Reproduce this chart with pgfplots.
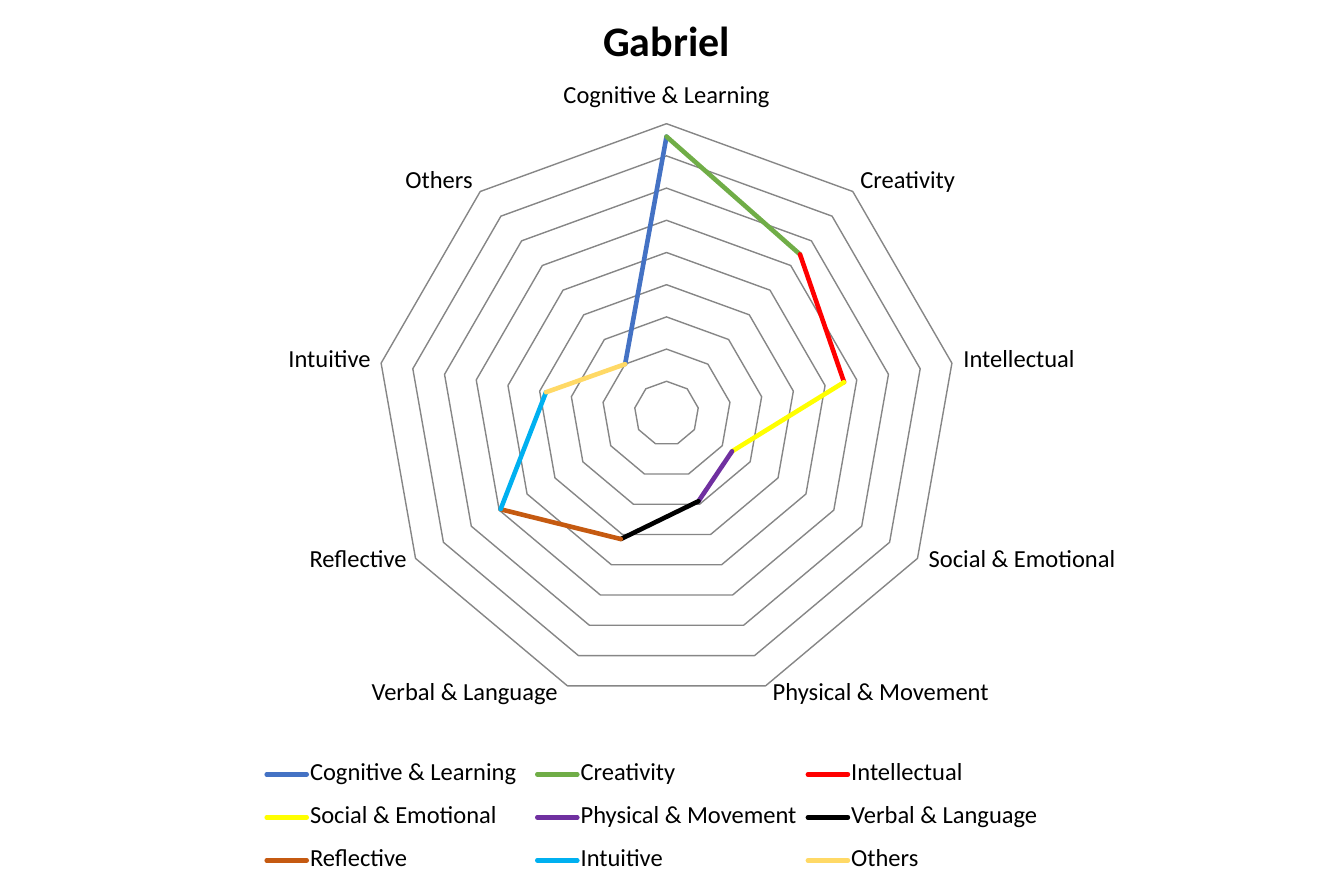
\documentclass[border=0pt]{standalone}
\usepackage{pgfplots}
\pgfplotsset{compat=1.18}
\usepackage{fontspec}
\setmainfont{Carlito}
\definecolor{gridgray}{HTML}{868686}
\definecolor{cBlue}{HTML}{4472C4}
\definecolor{cGreen}{HTML}{70AD47}
\definecolor{cRed}{HTML}{FF0000}
\definecolor{cYellow}{HTML}{FFFF00}
\definecolor{cPurple}{HTML}{7030A0}
\definecolor{cBlack}{HTML}{000000}
\definecolor{cOrange}{HTML}{C55A11}
\definecolor{cCyan}{HTML}{00B0F0}
\definecolor{cLOrange}{HTML}{FFD966}
\newcommand{\lf}{\fontsize{12.25}{14}\selectfont}
\newcommand{\legtxt}[1]{\makebox[112pt][l]{#1}}
\begin{document}
\begin{tikzpicture}
\begin{axis}[
  hide axis, clip=false,
  x=16.1pt, y=16.1pt,
  xmin=-20.699, xmax=20.730, ymin=-14.767, ymax=12.842,
  data cs=polar,
  legend columns=3,
  legend cell align=left,
  legend image code/.code={\draw[#1,line cap=round] (0pt,0pt) -- (20pt,0pt);},
  legend style={at={(axis cs:-12.50,-10.823)}, anchor=north west, draw=none, fill=none,
    inner sep=0pt, row sep=9.5pt, font=\lf,
    nodes={inner xsep=0.5pt, inner ysep=0pt, text height=9pt, text depth=3pt}},
  every axis plot/.append style={line width=2.3pt, line cap=round, line join=round},
]
\pgfplotsinvokeforeach{1,...,9}{
  \addplot[gridgray, line width=0.7pt, forget plot] coordinates {(90,#1) (50,#1) (10,#1) (-30,#1) (-70,#1) (-110,#1) (-150,#1) (170,#1) (130,#1) (90,#1)};
}
\addplot[cBlue] coordinates {(130,2.0) (90,8.6)};
\addlegendentry{\legtxt{Cognitive \& Learning}}
\addplot[cGreen] coordinates {(90,8.6) (50,6.45)};
\addlegendentry{\legtxt{Creativity}}
\addplot[cRed] coordinates {(50,6.45) (10,5.6)};
\addlegendentry{\legtxt{Intellectual}}
\addplot[cYellow] coordinates {(10,5.6) (-30,2.35)};
\addlegendentry{\legtxt{Social \& Emotional}}
\addplot[cPurple] coordinates {(-30,2.35) (-70,2.9)};
\addlegendentry{\legtxt{Physical \& Movement}}
\addplot[cBlack] coordinates {(-70,2.9) (-110,4.15)};
\addlegendentry{\legtxt{Verbal \& Language}}
\addplot[cOrange] coordinates {(-110,4.15) (-150,5.95)};
\addlegendentry{\legtxt{Reflective}}
\addplot[cCyan] coordinates {(-150,5.95) (170,3.8)};
\addlegendentry{\legtxt{Intuitive}}
\addplot[cLOrange] coordinates {(170,3.8) (130,2.0)};
\addlegendentry{\legtxt{Others}}
\begin{scope}[every node/.style={inner sep=0pt, font=\lf}]
\node[anchor=base] at (axis cs:0,11.081) {\fontsize{21}{25}\selectfont\bfseries Gabriel};
\node[anchor=base] at (axis cs:0,9.634) {Cognitive \& Learning};
\node[anchor=base west] at (axis cs:6.009,6.972) {Creativity};
\node[anchor=base west] at (axis cs:9.208,1.413) {Intellectual};
\node[anchor=base west] at (axis cs:8.130,-4.789) {Social \& Emotional};
\node[anchor=base west] at (axis cs:3.286,-8.898) {Physical \& Movement};
\node[anchor=base east] at (axis cs:-3.370,-8.898) {Verbal \& Language};
\node[anchor=base east] at (axis cs:-8.059,-4.798) {Reflective};
\node[anchor=base east] at (axis cs:-9.177,1.413) {Intuitive};
\node[anchor=base east] at (axis cs:-6.009,6.972) {Others};
\end{scope}
\end{axis}
\pgfresetboundingbox
\path (current axis.south west) rectangle (current axis.north east);
\end{tikzpicture}
\end{document}
